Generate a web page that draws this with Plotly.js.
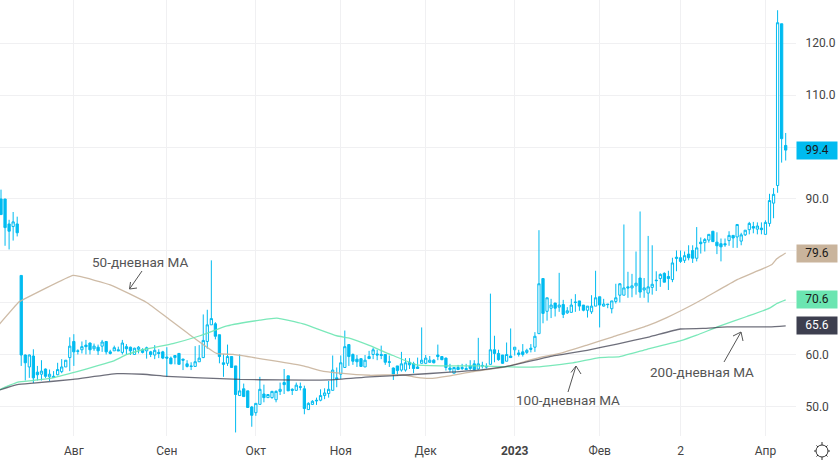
<!DOCTYPE html>
<html><head><meta charset="utf-8">
<script src="https://cdn.plot.ly/plotly-3.0.1.min.js"></script>
<style>html,body{margin:0;padding:0;background:#fff;overflow:hidden}#c{width:840px;height:460px}</style>
</head><body><div id="c"></div>
<script>
const open_ = [90,90,85.2,84.7,85.2,75.3,60,57.7,59.8,56.7,56.3,57.3,55.8,55.9,56.2,56.8,57.7,59.5,62.6,60.8,
61,61.9,62.3,61.2,61.5,61.7,62.6,60.6,60.8,61,60.5,61.6,61.5,60.1,61.1,61,60.8,60.6,60,60.5,
60.6,59.6,59.4,59.5,60.3,59.2,58.3,57.9,57.8,58.7,59.5,62.6,65.8,66,63.9,58.5,58.4,59.7,57.9,52.2,
53.5,53.1,50,48.9,50.5,52.5,51.8,51.8,51.4,53,54.7,56,53.4,53.2,53.9,53.5,49.5,50.5,51.3,51.3,
52.2,52.6,53.2,55.6,56.3,57.6,62,60.1,59.2,59.3,57.7,59.7,60.1,60.2,60.1,60.1,58.7,57.5,57.9,57.1,
57.1,58.6,58.3,57.7,58.4,58.4,58.6,59,60,59.7,59.4,57.5,56.5,57.6,57.6,57.4,57.9,58.3,57.3,58,
57.8,58.2,61,60.3,60,58.8,59.8,61,60.4,60.6,60.5,61.3,61.5,64.1,74.7,68.4,69,70,69.2,69.7,
68.1,68.2,70.2,70.4,69.6,68.6,68.3,69.4,71.2,69.4,69.8,68.9,70.3,71.5,71.5,73.1,72.9,73.3,74.8,72.5,
71.9,73,74.4,74.7,75.7,75.1,74.5,78.8,78.7,78.2,79.4,80.1,78.6,81.7,81.6,82.1,83.8,81.7,81.4,81.4,
82,83,82.7,81.9,83.1,84.1,84.7,84.2,84.4,83.2,85.3,89.2,92.6,123.7,100.3];
const high = [91.8,90,86,87.5,86.6,75.3,60.1,60.1,61.1,57.9,59,57.4,57.2,56.9,58.5,59.2,59,63.4,64,61.1,
62.6,62.9,62.4,62.2,62,62.9,62.6,61,61.8,61.6,62.9,62.1,61.6,61.4,61.7,61.3,61.6,60.8,61.9,61.1,
60.8,61.5,59.7,60,60.3,59.3,59,58.6,61.7,61.9,67.8,68.7,78.2,66.3,63.9,60.2,62,59.7,57.9,60.1,
54.5,53.1,50.2,50.7,55.8,54.3,52.4,53.1,53.2,54.7,57.3,56,53.6,54.7,54.7,54.1,50.9,51.3,51.8,53.4,
53.6,55,59.9,57.6,59.9,64.7,62,60.3,60,59.3,60,60.8,61.4,61,61.8,60.1,59.9,57.6,57.9,60.6,
59.4,59.4,58.7,59.5,65.3,60,59.8,59.2,62,59.7,59.5,58.3,57.6,58.1,58.3,58.3,59,59,63.3,58.7,
58.4,71.8,63.7,61,60,62.4,65.1,61.5,61,62.1,61.2,62.1,64.4,84,74.7,71,70.8,70,75.8,70.6,
69.2,70.8,71.7,70.4,69.6,69.4,71.5,76.2,71.2,70.8,69.8,70.4,73.7,73.8,85.1,76,75.6,79.9,87.6,74.8,
82.9,81.1,76.1,75.7,75.9,76.2,78.7,80.1,80.1,79.9,81.1,81.1,84.6,82.6,82.5,83.2,83.8,83.6,82.4,82.4,
83.8,83,85.1,83.5,84,85.6,85.6,85.5,85.5,85.9,91,92.1,126.3,123.7,102.7];
const low = [87,81,80.3,82,82.8,57.9,55.1,55.6,54.6,55.1,55.1,55.6,55,55.6,56.1,56.5,57.7,56.9,57.9,60.1,
60.3,60.1,60.1,60.8,60,60.6,60.1,60.1,60.8,60.8,60.1,60,60,60.1,60.3,60.3,59.3,59.6,59.2,59.4,
59.2,55.8,58.3,58.2,58.2,57.1,57.6,57.1,57.8,58.7,59.4,61.2,65.8,63,58.4,55.8,57.9,57.5,45.1,52.2,
52,49.9,46.2,48.3,50.5,50.9,51.8,51.6,50.9,52.3,52.5,53.1,52.3,53.2,53.2,48.6,49.5,50.4,50.4,51.1,
51.5,51.8,53.2,53.8,55.4,57.6,57.9,58.1,57.7,57.7,57.7,59.3,59.2,59,59.2,58.1,57.7,55.2,56,56.8,
56.8,57.3,56.5,57.4,58.4,58.3,58.5,58.4,59,59,57,56.7,56.5,57.1,57.1,57.1,57.1,57.1,57.2,57.4,
57.4,58.2,58.6,58.9,58.3,58.8,59.5,59.9,59.7,59.7,60.2,60.5,60.6,64.1,66.1,66.6,67.1,67.4,68.3,67.1,
67.9,68.2,68.3,68.5,68.4,67.2,67.9,69.4,65.3,69.3,69,68,69.9,70.1,71.5,71,71.1,71.6,71,71,
70.1,71.6,72.3,73.1,74,72.5,74,76.1,77.7,77.7,78.2,77.7,78,79.5,79.9,81.6,81.8,79.4,78,80.8,
81,80.6,80.6,81.1,82.9,83.2,83.4,83.2,83.2,83.2,84.7,86.3,91.2,97,97.4];
const close_ = [87,84.5,83.8,85.6,83.5,60,58.5,60,55.6,56.2,56.9,55.9,56.3,55.7,57.2,57.7,59,61.7,60.6,60.7,
61.6,61.6,61,61.7,60.8,62.5,60.6,60.3,61.4,60.8,62.3,61.2,60.8,61.3,61.5,60.5,61.4,60.1,60.9,60.3,
59.4,59.4,58.3,59.9,58.2,59,57.8,57.8,58.7,59.4,62.8,65.8,67,63.6,59.7,58.2,59.7,57.6,52.4,53.1,
52,49.9,48.4,50.7,53.4,51.8,52.4,53,53,53.4,54.3,53.1,53.2,54.2,53.8,49.7,50.7,51.1,51.2,52.2,
52.7,53.4,57.1,55.4,58.5,61.6,59.7,58.8,58.7,57.8,59,59.3,61,60,59.9,58.6,58.6,56.3,57,58.3,
58.5,58.1,57.4,57.4,59,59.4,59,58.5,59.7,59.1,57.6,57.2,57.6,57.2,57.4,57.2,57.4,57.2,58.3,57.9,
57.7,61,60.3,59.1,58.4,60.1,59.5,61.5,60.1,60.1,60.9,61.1,63.6,73.7,68,71,69.6,69,69.6,67.8,
68.5,69.6,70.1,69.4,68.6,69.4,69.4,71,69.6,69.8,69.7,70.4,71,73.7,72.9,72.9,73.3,73.8,72.1,72.9,
73.1,73.6,74.3,75.5,74,74.7,77.7,78.6,78,79.1,78.7,78.6,80.6,81.4,82.2,83.2,81.8,81,80.8,81.2,
83,82.5,85.1,83.1,84,85.3,84.4,84.8,84.1,85.5,89.7,90.9,123.9,101.6,99.4];

const ma50Idx = [-1,4.3,4.7,17.8,19.5,27,36,41,47.5,53.3,57.4,67.2,74.7,78.9,83.8,91.2,99.4,102.8,106,111,116,124,133,138.2,144.9,151.3,159.7,164.6,172,182,185.9,190.6,191.8,194];
const ma50 = [65.4,70.1,70.3,75.3,75.1,73.5,70.1,67.2,63.4,60.3,60.1,58.9,57.9,57,56.5,56.1,56.2,55.7,55.5,56,56.7,57.6,59.5,60.3,61.9,63.5,65.6,67.2,70.1,74.5,75.8,77.4,78.5,79.6];
const ma100Idx = [-1,2.2,4.2,8,12.1,18.8,23.7,27.7,31.2,36.1,42.5,49.2,55.9,64,68.2,74.7,83,86.3,91.2,96.9,102.8,111,117.7,125.8,132.5,141.4,148,153,159.7,167.9,172,177.8,184.4,190,191.8,194];
const ma100 = [53.1,54.2,54.8,55.1,55.5,56.8,57.9,58.8,60.1,61.2,62.2,63.7,65.6,66.7,67.1,66,63.7,63.2,61.8,59.9,58.1,57.9,57.9,57.7,57.7,58.5,59.5,59.7,61.1,62.7,63.8,65.6,67.4,69,69.9,70.6];
const ma200Idx = [-1,4,8,17.8,28.7,35.1,41,49.2,59.1,69,81.3,91.2,101.1,111,119.2,125.8,135.7,144.9,152.3,160.4,167.9,173.5,179.5,190,194];
const ma200 = [53.1,54.3,54.6,55.3,56.4,56.3,55.9,55.6,55.3,55.2,55.2,55.8,56.2,56.7,57.2,57.9,59.7,60.9,62.1,63.5,65,65.1,65.4,65.4,65.6];

const xTickVals = [18,41,63,84,105,127,148,168,189];
const xTickText = ['Авг','Сен','Окт','Ноя','Дек','<b>2023</b>','Фев','2','Апр'];
const yTickVals = [50,60,70,80,90,100,110,120];
const yTickText = ['50.0','60.0','','','90.0','','110.0','120.0'];

const candleColor = '#00bbf0', tan = '#c9b49c', green = '#6be5b1', dark = '#3d3f4f';
const W = 796, H = 436;
const px = x => x / W, py = y => 1 - y / H;
const segPath = pts => pts.map((p,i)=>(i?'L':'M')+px(p[0])+','+py(p[1])).join(' ');
const arrow = (tail, tip, a, b) => ({type:'path', xref:'paper', yref:'paper', line:{color:'#555',width:1}, path: segPath([tail,tip]) + ' ' + segPath([a,tip,b])});

const shapes = [
  arrow([142,271],[129.5,289],[130.5,282],[137,288]),
  arrow([568,392],[576,366],[571,372.5],[581,374]),
  arrow([724,362],[741,332],[733,336],[743,341]),
  {type:'circle', xref:'paper', yref:'paper', line:{color:'#333',width:1}, x0:px(816), x1:px(828), y0:py(445), y1:py(457)}
];
const sun = [[822,442,822,445],[822,457,822,460],[814,451,816,451],[828,451,830,451],[816.5,445.5,818,447],[826,455,827.5,456.5],[827.5,445.5,826,447],[818,455,816.5,456.5]];
sun.forEach(s => shapes.push({type:'line', xref:'paper', yref:'paper', line:{color:'#333',width:1}, x0:px(s[0]), y0:py(s[1]), x1:px(s[2]), y1:py(s[3])}));

const txt = (t, x, y) => ({text:t, xref:'paper', yref:'paper', x:px(x), y:py(y), showarrow:false, xanchor:'center', yanchor:'middle', font:{family:'Roboto, sans-serif', size:13.5, color:'#555'}});
const badge = (val, bg, fg) => ({text: val.toFixed(1), xref:'paper', yref:'y', x:1, y:val, showarrow:false, xanchor:'left', yanchor:'middle', width:40, height:16.7, align:'center', bgcolor:bg, borderpad:0, font:{family:'Roboto, sans-serif', size:12, color:fg}});

const idx = close_.map((_,i)=>i);
const lineTrace = (x,y,c,w,o) => ({type:'scatter', mode:'lines', x, y, opacity:o, line:{color:c,width:w,shape:'spline',smoothing:0.4}, hoverinfo:'skip'});

Plotly.newPlot('c', [
  lineTrace(ma50Idx, ma50, tan, 1.3, 0.9),
  lineTrace(ma100Idx, ma100, green, 1.3, 0.9),
  lineTrace(ma200Idx, ma200, dark, 1.3, 0.75),
  {type:'candlestick', x:idx, open:open_, high, low, close:close_, hoverinfo:'skip', whiskerwidth:0,
   increasing:{line:{color:candleColor,width:1}, fillcolor:'#ffffff'},
   decreasing:{line:{color:candleColor,width:1}, fillcolor:candleColor}}
], {
  width:840, height:460, margin:{l:0,r:44,t:0,b:24,pad:0},
  paper_bgcolor:'#fff', plot_bgcolor:'#fff', showlegend:false, boxgap:0.2,
  font:{family:'Roboto, sans-serif', size:12, color:'#444'},
  xaxis:{type:'linear', range:[-0.25,196.55], tickmode:'array', tickvals:xTickVals, ticktext:xTickText, showgrid:true, gridcolor:'#f0f0f2', gridwidth:1, zeroline:false, showline:false, ticks:'outside', ticklen:4, tickcolor:'rgba(0,0,0,0)', rangeslider:{visible:false}, tickfont:{size:12,color:'#444'}},
  yaxis:{side:'right', range:[44.42,128.27], tickmode:'array', tickvals:yTickVals, ticktext:yTickText, showgrid:true, gridcolor:'#f0f0f2', gridwidth:1, zeroline:false, showline:false, ticks:'outside', ticklen:6, tickcolor:'rgba(0,0,0,0)', tickfont:{size:12,color:'#444'}},
  shapes,
  annotations:[
    txt('50-дневная МА',140,262), txt('100-дневная МА',568,400), txt('200-дневная МА',702,372),
    badge(close_[close_.length-1], candleColor, '#1a1a1a'),
    badge(ma50[ma50.length-1], tan, '#1a1a1a'),
    badge(ma100[ma100.length-1], green, '#1a1a1a'),
    badge(ma200[ma200.length-1], dark, '#ffffff')
  ]
}, {displayModeBar:false, staticPlot:true});
</script></body></html>
